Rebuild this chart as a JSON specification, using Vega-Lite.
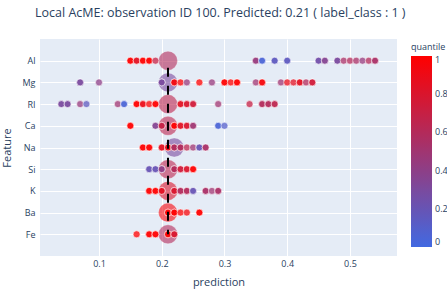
{
  "$schema": "https://vega.github.io/schema/vega-lite/v6.json",
  "autosize": {"type": "none"},
  "width": 357,
  "height": 217,
  "padding": {"left": 40, "top": 39, "right": 50, "bottom": 33},
  "background": "white",
  "title": {
    "text": "Local AcME: observation ID 100. Predicted: 0.21 ( label_class : 1 )",
    "anchor": "start",
    "frame": "group",
    "dx": -5,
    "offset": 20,
    "font": "Open Sans",
    "fontSize": 12.5,
    "fontWeight": "normal",
    "color": "#2a3f5f"
  },
  "config": {
    "view": {"fill": "#E5ECF6", "stroke": null},
    "axis": {
      "grid": true,
      "gridColor": "white",
      "gridWidth": 1,
      "domain": false,
      "ticks": false,
      "labelFont": "Open Sans",
      "labelFontSize": 9,
      "labelColor": "#2a3f5f",
      "titleFont": "Open Sans",
      "titleFontSize": 11,
      "titleFontWeight": "normal",
      "titleColor": "#2a3f5f"
    },
    "legend": {
      "labelFont": "Open Sans",
      "labelFontSize": 9,
      "labelColor": "#2a3f5f",
      "titleFont": "Open Sans",
      "titleFontSize": 9,
      "titleFontWeight": "normal",
      "titleColor": "#2a3f5f"
    }
  },
  "datasets": {
    "pts": [
      {"feature": "Al", "prediction": 0.15, "quantile": 1},
      {"feature": "Al", "prediction": 0.15, "quantile": 1},
      {"feature": "Al", "prediction": 0.16, "quantile": 0.85},
      {"feature": "Al", "prediction": 0.16, "quantile": 0.85},
      {"feature": "Al", "prediction": 0.17, "quantile": 1},
      {"feature": "Al", "prediction": 0.17, "quantile": 1},
      {"feature": "Al", "prediction": 0.18, "quantile": 1},
      {"feature": "Al", "prediction": 0.18, "quantile": 1},
      {"feature": "Al", "prediction": 0.19, "quantile": 0.7},
      {"feature": "Al", "prediction": 0.35, "quantile": 0.45},
      {"feature": "Al", "prediction": 0.35, "quantile": 0.45},
      {"feature": "Al", "prediction": 0.36, "quantile": 0.05},
      {"feature": "Al", "prediction": 0.36, "quantile": 0.05},
      {"feature": "Al", "prediction": 0.38, "quantile": 0.15},
      {"feature": "Al", "prediction": 0.38, "quantile": 0.15},
      {"feature": "Al", "prediction": 0.40, "quantile": 0.15},
      {"feature": "Al", "prediction": 0.40, "quantile": 0.15},
      {"feature": "Al", "prediction": 0.45, "quantile": 0.25},
      {"feature": "Al", "prediction": 0.45, "quantile": 0.25},
      {"feature": "Al", "prediction": 0.46, "quantile": 0.35},
      {"feature": "Al", "prediction": 0.46, "quantile": 0.35},
      {"feature": "Al", "prediction": 0.48, "quantile": 0.3},
      {"feature": "Al", "prediction": 0.48, "quantile": 0.3},
      {"feature": "Al", "prediction": 0.49, "quantile": 0.55},
      {"feature": "Al", "prediction": 0.50, "quantile": 0.6},
      {"feature": "Al", "prediction": 0.51, "quantile": 0.55},
      {"feature": "Al", "prediction": 0.52, "quantile": 0.45},
      {"feature": "Al", "prediction": 0.53, "quantile": 0.6},
      {"feature": "Al", "prediction": 0.54, "quantile": 0.55},
      {"feature": "Al", "prediction": 0.54, "quantile": 0.55},

      {"feature": "Mg", "prediction": 0.07, "quantile": 0.3},
      {"feature": "Mg", "prediction": 0.07, "quantile": 0.3},
      {"feature": "Mg", "prediction": 0.10, "quantile": 0.4},
      {"feature": "Mg", "prediction": 0.20, "quantile": 0.3},
      {"feature": "Mg", "prediction": 0.20, "quantile": 0.3},
      {"feature": "Mg", "prediction": 0.22, "quantile": 0.95},
      {"feature": "Mg", "prediction": 0.22, "quantile": 0.95},
      {"feature": "Mg", "prediction": 0.23, "quantile": 1},
      {"feature": "Mg", "prediction": 0.24, "quantile": 0.45},
      {"feature": "Mg", "prediction": 0.26, "quantile": 1},
      {"feature": "Mg", "prediction": 0.28, "quantile": 0.45},
      {"feature": "Mg", "prediction": 0.30, "quantile": 1},
      {"feature": "Mg", "prediction": 0.30, "quantile": 1},
      {"feature": "Mg", "prediction": 0.31, "quantile": 1},
      {"feature": "Mg", "prediction": 0.32, "quantile": 1},
      {"feature": "Mg", "prediction": 0.32, "quantile": 1},
      {"feature": "Mg", "prediction": 0.35, "quantile": 0.5},
      {"feature": "Mg", "prediction": 0.36, "quantile": 0.95},
      {"feature": "Mg", "prediction": 0.36, "quantile": 0.95},
      {"feature": "Mg", "prediction": 0.39, "quantile": 0.5},
      {"feature": "Mg", "prediction": 0.40, "quantile": 0.9},
      {"feature": "Mg", "prediction": 0.41, "quantile": 0.85},
      {"feature": "Mg", "prediction": 0.42, "quantile": 0.85},
      {"feature": "Mg", "prediction": 0.42, "quantile": 0.85},
      {"feature": "Mg", "prediction": 0.43, "quantile": 0.6},
      {"feature": "Mg", "prediction": 0.44, "quantile": 0.75},
      {"feature": "Mg", "prediction": 0.44, "quantile": 0.75},

      {"feature": "RI", "prediction": 0.04, "quantile": 0.3},
      {"feature": "RI", "prediction": 0.04, "quantile": 0.3},
      {"feature": "RI", "prediction": 0.05, "quantile": 0.3},
      {"feature": "RI", "prediction": 0.05, "quantile": 0.3},
      {"feature": "RI", "prediction": 0.07, "quantile": 0.45},
      {"feature": "RI", "prediction": 0.08, "quantile": 0.15},
      {"feature": "RI", "prediction": 0.13, "quantile": 0.5},
      {"feature": "RI", "prediction": 0.14, "quantile": 0.05},
      {"feature": "RI", "prediction": 0.14, "quantile": 0.05},
      {"feature": "RI", "prediction": 0.16, "quantile": 1},
      {"feature": "RI", "prediction": 0.16, "quantile": 1},
      {"feature": "RI", "prediction": 0.17, "quantile": 0.9},
      {"feature": "RI", "prediction": 0.17, "quantile": 0.9},
      {"feature": "RI", "prediction": 0.18, "quantile": 1},
      {"feature": "RI", "prediction": 0.19, "quantile": 1},
      {"feature": "RI", "prediction": 0.19, "quantile": 1},
      {"feature": "RI", "prediction": 0.23, "quantile": 0.85},
      {"feature": "RI", "prediction": 0.23, "quantile": 0.85},
      {"feature": "RI", "prediction": 0.24, "quantile": 0.8},
      {"feature": "RI", "prediction": 0.24, "quantile": 0.8},
      {"feature": "RI", "prediction": 0.25, "quantile": 0.75},
      {"feature": "RI", "prediction": 0.25, "quantile": 0.75},
      {"feature": "RI", "prediction": 0.29, "quantile": 0.5},
      {"feature": "RI", "prediction": 0.34, "quantile": 0.7},
      {"feature": "RI", "prediction": 0.36, "quantile": 0.6},
      {"feature": "RI", "prediction": 0.36, "quantile": 0.6},
      {"feature": "RI", "prediction": 0.37, "quantile": 0.6},
      {"feature": "RI", "prediction": 0.37, "quantile": 0.6},
      {"feature": "RI", "prediction": 0.38, "quantile": 0.65},
      {"feature": "RI", "prediction": 0.38, "quantile": 0.65},

      {"feature": "Ca", "prediction": 0.15, "quantile": 1},
      {"feature": "Ca", "prediction": 0.15, "quantile": 1},
      {"feature": "Ca", "prediction": 0.19, "quantile": 0.35},
      {"feature": "Ca", "prediction": 0.19, "quantile": 0.35},
      {"feature": "Ca", "prediction": 0.20, "quantile": 0.7},
      {"feature": "Ca", "prediction": 0.20, "quantile": 0.7},
      {"feature": "Ca", "prediction": 0.22, "quantile": 1},
      {"feature": "Ca", "prediction": 0.22, "quantile": 1},
      {"feature": "Ca", "prediction": 0.23, "quantile": 0.85},
      {"feature": "Ca", "prediction": 0.23, "quantile": 0.85},
      {"feature": "Ca", "prediction": 0.24, "quantile": 0.8},
      {"feature": "Ca", "prediction": 0.24, "quantile": 0.8},
      {"feature": "Ca", "prediction": 0.25, "quantile": 0.5},
      {"feature": "Ca", "prediction": 0.25, "quantile": 0.5},
      {"feature": "Ca", "prediction": 0.29, "quantile": 0.05},
      {"feature": "Ca", "prediction": 0.29, "quantile": 0.05},
      {"feature": "Ca", "prediction": 0.30, "quantile": 0.1},

      {"feature": "Na", "prediction": 0.17, "quantile": 1},
      {"feature": "Na", "prediction": 0.17, "quantile": 1},
      {"feature": "Na", "prediction": 0.18, "quantile": 1},
      {"feature": "Na", "prediction": 0.18, "quantile": 1},
      {"feature": "Na", "prediction": 0.20, "quantile": 0.85},
      {"feature": "Na", "prediction": 0.20, "quantile": 0.85},
      {"feature": "Na", "prediction": 0.21, "quantile": 0.9},
      {"feature": "Na", "prediction": 0.21, "quantile": 0.9},
      {"feature": "Na", "prediction": 0.22, "quantile": 0.6},
      {"feature": "Na", "prediction": 0.22, "quantile": 0.6},
      {"feature": "Na", "prediction": 0.23, "quantile": 0.6},
      {"feature": "Na", "prediction": 0.23, "quantile": 0.6},
      {"feature": "Na", "prediction": 0.24, "quantile": 0.65},
      {"feature": "Na", "prediction": 0.25, "quantile": 0.5},
      {"feature": "Na", "prediction": 0.26, "quantile": 0.2},
      {"feature": "Na", "prediction": 0.26, "quantile": 0.2},
      {"feature": "Na", "prediction": 0.27, "quantile": 0.55},
      {"feature": "Na", "prediction": 0.27, "quantile": 0.55},

      {"feature": "Si", "prediction": 0.18, "quantile": 0.2},
      {"feature": "Si", "prediction": 0.18, "quantile": 0.2},
      {"feature": "Si", "prediction": 0.19, "quantile": 0.2},
      {"feature": "Si", "prediction": 0.19, "quantile": 0.2},
      {"feature": "Si", "prediction": 0.20, "quantile": 0.4},
      {"feature": "Si", "prediction": 0.20, "quantile": 0.4},
      {"feature": "Si", "prediction": 0.22, "quantile": 0.6},
      {"feature": "Si", "prediction": 0.22, "quantile": 0.6},
      {"feature": "Si", "prediction": 0.23, "quantile": 0.75},
      {"feature": "Si", "prediction": 0.23, "quantile": 0.75},
      {"feature": "Si", "prediction": 0.24, "quantile": 0.8},
      {"feature": "Si", "prediction": 0.24, "quantile": 0.8},
      {"feature": "Si", "prediction": 0.25, "quantile": 1},
      {"feature": "Si", "prediction": 0.25, "quantile": 1},

      {"feature": "K", "prediction": 0.18, "quantile": 1},
      {"feature": "K", "prediction": 0.18, "quantile": 1},
      {"feature": "K", "prediction": 0.19, "quantile": 1},
      {"feature": "K", "prediction": 0.19, "quantile": 1},
      {"feature": "K", "prediction": 0.20, "quantile": 0.85},
      {"feature": "K", "prediction": 0.20, "quantile": 0.85},
      {"feature": "K", "prediction": 0.22, "quantile": 0.8},
      {"feature": "K", "prediction": 0.22, "quantile": 0.8},
      {"feature": "K", "prediction": 0.23, "quantile": 0.6},
      {"feature": "K", "prediction": 0.23, "quantile": 0.6},
      {"feature": "K", "prediction": 0.24, "quantile": 0.6},
      {"feature": "K", "prediction": 0.24, "quantile": 0.6},
      {"feature": "K", "prediction": 0.25, "quantile": 0.2},
      {"feature": "K", "prediction": 0.25, "quantile": 0.2},
      {"feature": "K", "prediction": 0.27, "quantile": 0.55},
      {"feature": "K", "prediction": 0.27, "quantile": 0.55},
      {"feature": "K", "prediction": 0.28, "quantile": 0.5},
      {"feature": "K", "prediction": 0.29, "quantile": 0.55},
      {"feature": "K", "prediction": 0.29, "quantile": 0.55},

      {"feature": "Ba", "prediction": 0.21, "quantile": 1},
      {"feature": "Ba", "prediction": 0.21, "quantile": 1},
      {"feature": "Ba", "prediction": 0.22, "quantile": 1},
      {"feature": "Ba", "prediction": 0.22, "quantile": 1},
      {"feature": "Ba", "prediction": 0.23, "quantile": 1},
      {"feature": "Ba", "prediction": 0.24, "quantile": 0.95},
      {"feature": "Ba", "prediction": 0.26, "quantile": 1},
      {"feature": "Ba", "prediction": 0.26, "quantile": 1},

      {"feature": "Fe", "prediction": 0.16, "quantile": 1},
      {"feature": "Fe", "prediction": 0.18, "quantile": 1},
      {"feature": "Fe", "prediction": 0.18, "quantile": 1},
      {"feature": "Fe", "prediction": 0.19, "quantile": 1},
      {"feature": "Fe", "prediction": 0.19, "quantile": 1},
      {"feature": "Fe", "prediction": 0.21, "quantile": 1},
      {"feature": "Fe", "prediction": 0.21, "quantile": 1},
      {"feature": "Fe", "prediction": 0.22, "quantile": 0.8},
      {"feature": "Fe", "prediction": 0.22, "quantile": 0.8}
    ],
    "obs": [
      {"feature": "Al", "prediction": 0.21, "quantile": 0.6},
      {"feature": "Mg", "prediction": 0.21, "quantile": 0.3},
      {"feature": "RI", "prediction": 0.21, "quantile": 0.65},
      {"feature": "Ca", "prediction": 0.21, "quantile": 0.65},
      {"feature": "Na", "prediction": 0.22, "quantile": 0.3},
      {"feature": "Si", "prediction": 0.21, "quantile": 0.65},
      {"feature": "K", "prediction": 0.21, "quantile": 0.8},
      {"feature": "Ba", "prediction": 0.21, "quantile": 0.95},
      {"feature": "Fe", "prediction": 0.21, "quantile": 0.6}
    ],
    "line": [
      {"prediction": 0.21, "from": "Al", "to": "Fe"}
    ]
  },
  "layer": [
    {
      "data": {"name": "obs"},
      "mark": {"type": "circle", "size": 361, "fillOpacity": 0.6, "stroke": "white", "strokeWidth": 0.5, "strokeOpacity": 0.5},
      "encoding": {
        "x": {
          "field": "prediction", "type": "quantitative",
          "scale": {"domain": [0.006, 0.575], "nice": false, "zero": false},
          "axis": {"values": [0.1, 0.2, 0.3, 0.4, 0.5], "format": ".1f", "title": "prediction", "labelPadding": 3, "titlePadding": 8}
        },
        "y": {
          "field": "feature", "type": "nominal",
          "scale": {"type": "point", "padding": 1, "domain": ["Al", "Mg", "RI", "Ca", "Na", "Si", "K", "Ba", "Fe"]},
          "axis": {"title": "Feature", "labelPadding": 5, "titlePadding": 10}
        },
        "color": {
          "field": "quantile", "type": "quantitative",
          "scale": {"domain": [0, 1], "range": ["#4169E1", "#FF0000"], "interpolate": "rgb"},
          "legend": {
            "title": "quantile",
            "values": [0, 0.2, 0.4, 0.6, 0.8, 1],
            "format": "~g",
            "gradientLength": 191,
            "gradientThickness": 21,
            "gradientStrokeWidth": 0,
            "offset": 10,
            "padding": 4,
            "titlePadding": 4,
            "labelOffset": 3,
            "direction": "vertical"
          }
        }
      }
    },
    {
      "data": {"name": "pts"},
      "mark": {"type": "circle", "size": 49, "fillOpacity": 0.75, "stroke": "white", "strokeWidth": 0.7, "strokeOpacity": 0.8},
      "encoding": {
        "x": {"field": "prediction", "type": "quantitative"},
        "y": {"field": "feature", "type": "nominal"},
        "color": {"field": "quantile", "type": "quantitative"}
      }
    },
    {
      "data": {"name": "line"},
      "mark": {"type": "rule", "color": "black", "strokeWidth": 2, "strokeDash": [9, 9], "strokeDashOffset": 11},
      "encoding": {
        "x": {"field": "prediction", "type": "quantitative"},
        "y": {"field": "from", "type": "nominal"},
        "y2": {"field": "to"}
      }
    }
  ]
}
